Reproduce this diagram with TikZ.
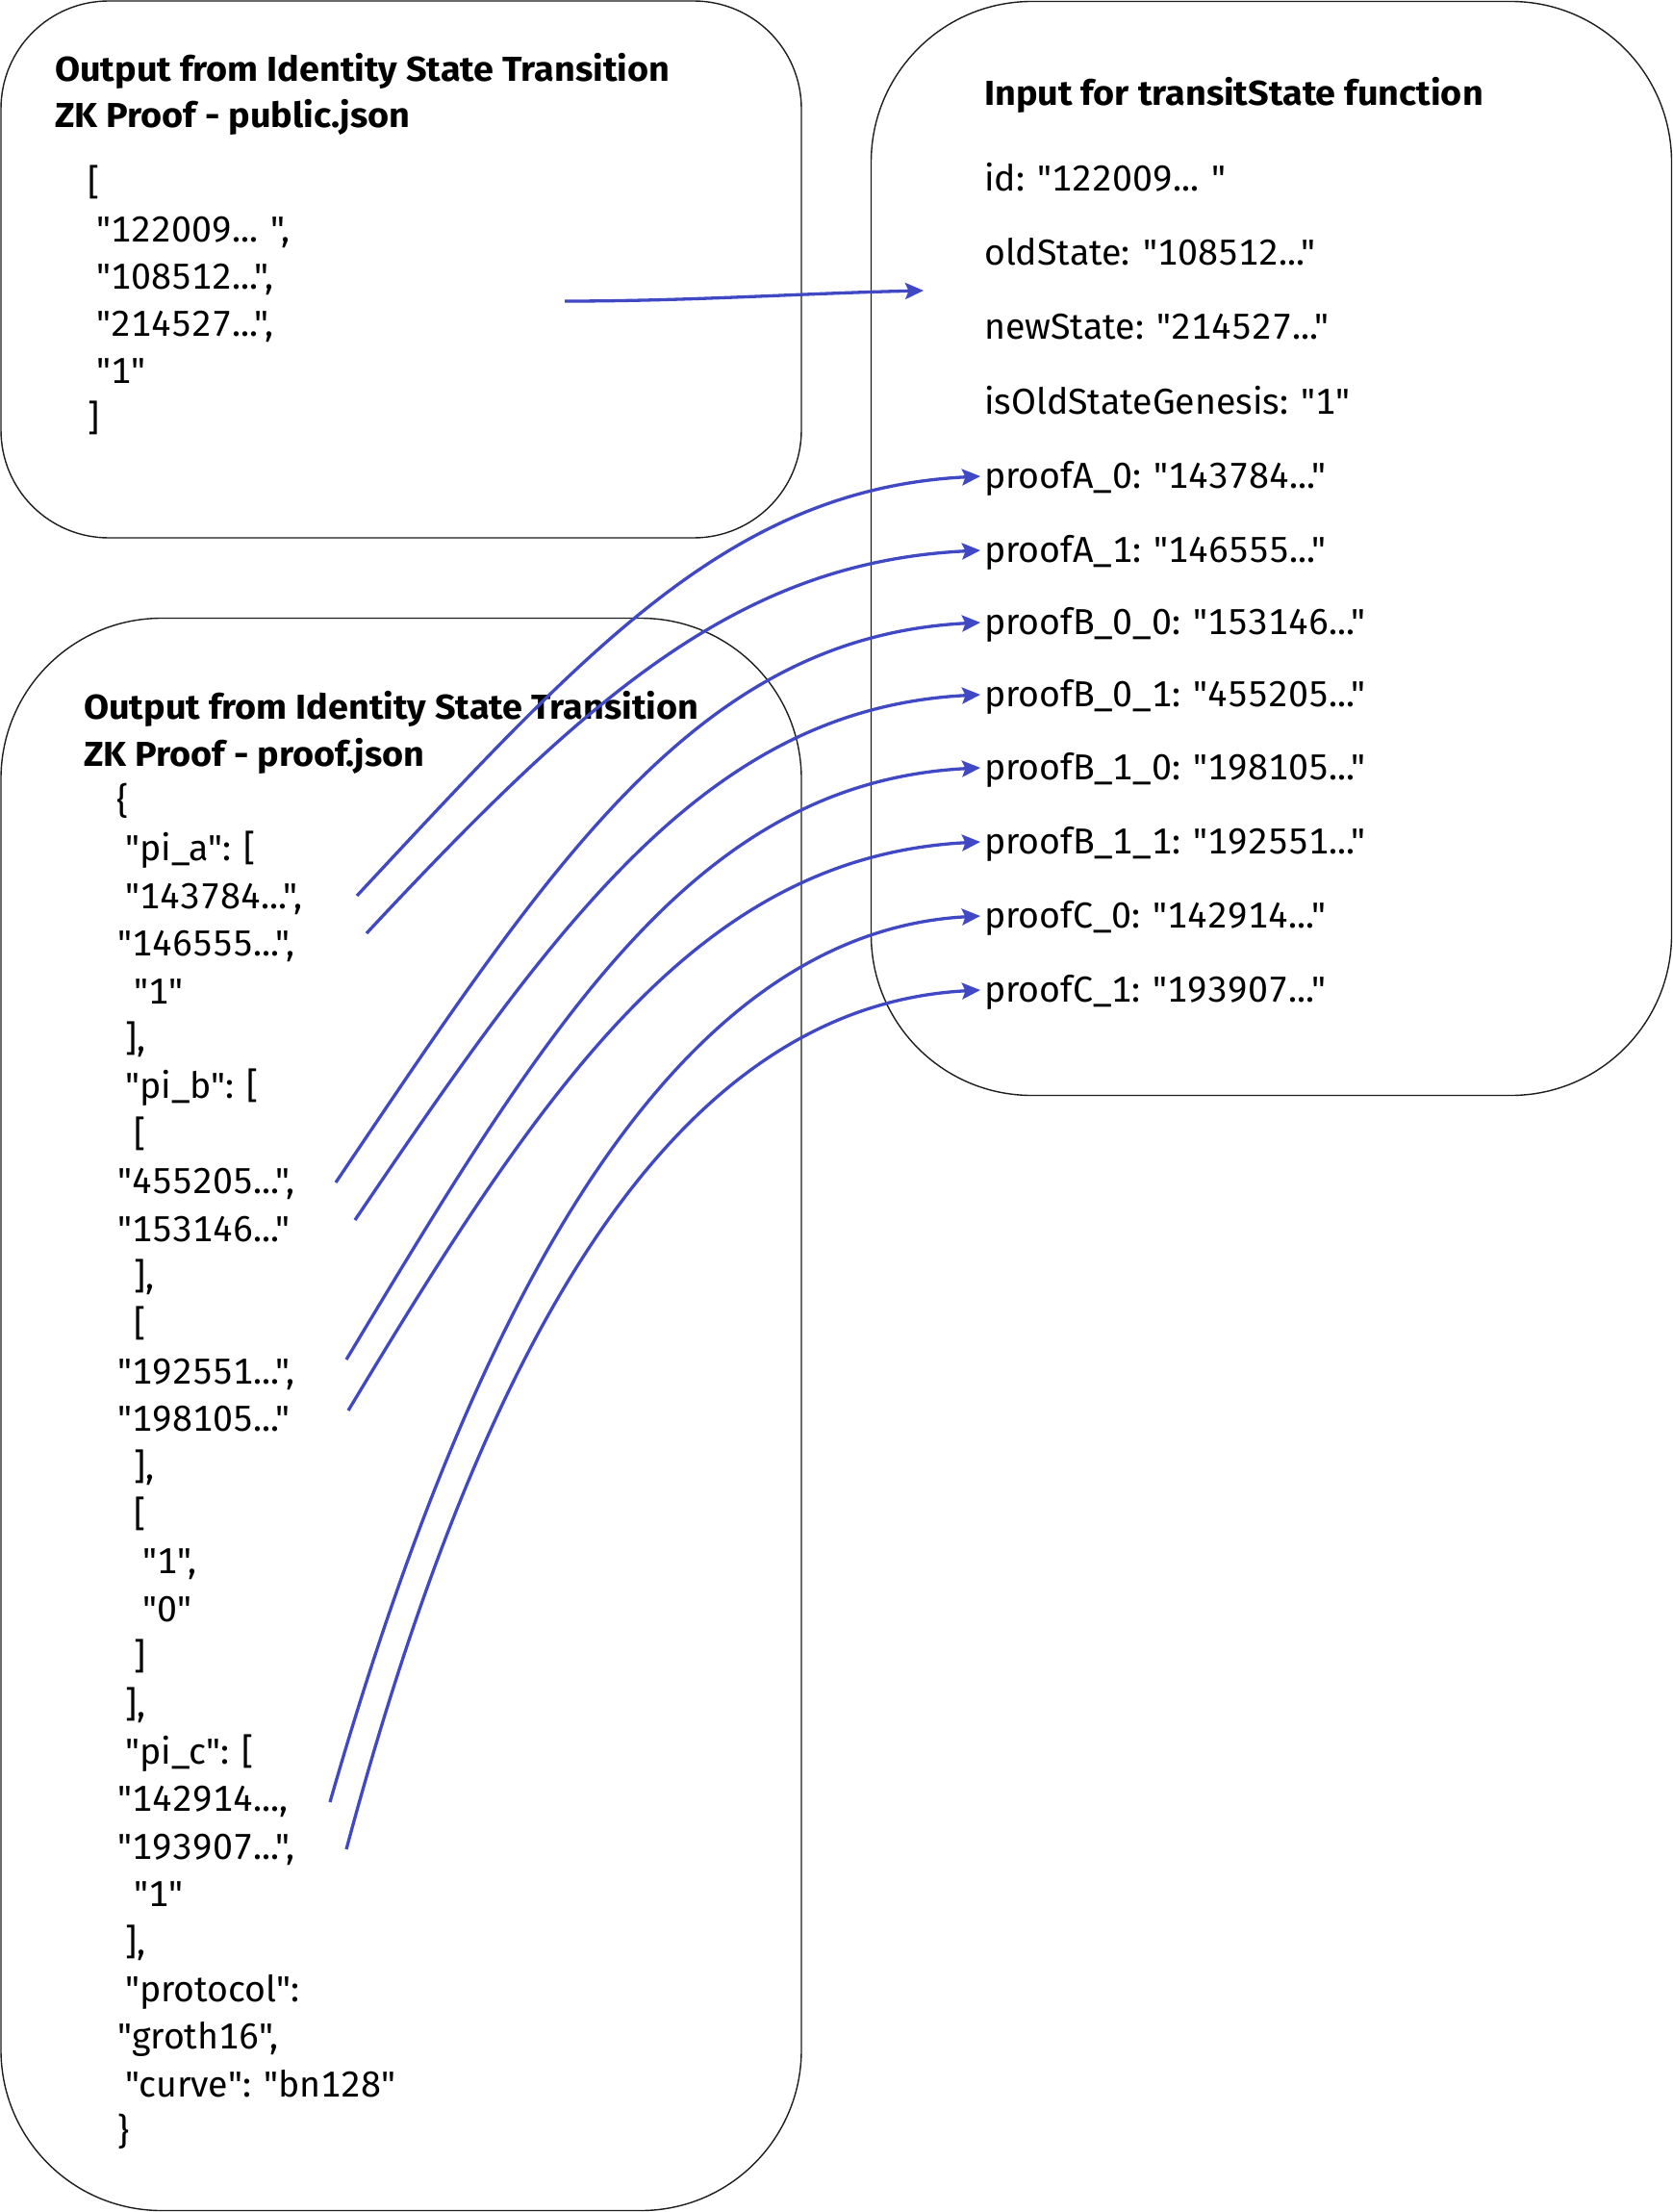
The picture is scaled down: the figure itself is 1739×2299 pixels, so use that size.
\documentclass[tikz,border=0pt]{standalone}
\usepackage{fontspec}
\newfontfamily\plex{Fira Sans}[Numbers=Monospaced, BoldFeatures={FakeStretch=1.05}]
\usetikzlibrary{arrows.meta,calc}
\definecolor{linkblue}{RGB}{64,72,196}
\definecolor{boxline}{RGB}{30,30,30}
\begin{document}
\begin{tikzpicture}[x=1pt,y=-1pt,
  box/.style={draw=boxline, line width=1.4pt, inner sep=0pt, rounded corners=#1},
  txt/.style={anchor=west, inner xsep=0pt, inner ysep=0pt, text height=25pt, text depth=0pt,
    font=\plex\fontsize{37.5}{44}\selectfont},
  ttl/.style={txt, font=\plex\fontsize{36}{43}\selectfont\bfseries},
  row/.style={txt, inner xsep=4pt},
  link/.style={draw=linkblue, line width=3.3pt, -{Stealth[length=19pt,width=17pt,inset=3.5pt]}}
]
\useasboundingbox (0,0) rectangle (1739,2299);
\fill[white] (0,0) rectangle (1739,2299);

% boxes
\node[box=112pt, minimum width=832pt, minimum height=558pt] (pub) at (417,280) {};
\node[box=167pt, minimum width=832pt, minimum height=1137pt] (inp) at (1321.5,570) {};
\node[box=167pt, minimum width=832pt, minimum height=1655pt] (prf) at (417,1470) {};

% public.json box
\node[ttl] (pt1) at (57,72) {Output from Identity State Transition};
\node[ttl] (pt2) at (57,120) {ZK Proof - public.json};
\node[txt] (p0) at (91,190) {[};
\node[txt] (p1) at (100,239) {"122009... ",};
\node[txt] (p2) at (100,288) {"108512...",};
\node[txt] (p3) at (100,337) {"214527...",};
\node[txt] (p4) at (100,386) {"1"};
\node[txt] (p5) at (91,435) {]};

% input box
\node[ttl] (it) at (1023,97) {Input for transitState function};
\node[row] (iid) at (1019,186) {id: "122009... "};
\node[row] (iold) at (1019,263) {oldState: "108512..."};
\node[row] (inew) at (1019,340) {newState: "214527..."};
\node[row] (igen) at (1019,418) {isOldStateGenesis: "1"};
\node[row] (tA0) at (1019,495) {proofA\_0: "143784..."};
\node[row] (tA1) at (1019,572) {proofA\_1: "146555..."};
\node[row] (tB00) at (1019,647) {proofB\_0\_0: "153146..."};
\node[row] (tB01) at (1019,722) {proofB\_0\_1: "455205..."};
\node[row] (tB10) at (1019,798) {proofB\_1\_0: "198105..."};
\node[row] (tB11) at (1019,875) {proofB\_1\_1: "192551..."};
\node[row] (tC0) at (1019,952) {proofC\_0: "142914..."};
\node[row] (tC1) at (1019,1029) {proofC\_1: "193907..."};

% proof.json box
\node[ttl] (ft1) at (87,735) {Output from Identity State Transition};
\node[ttl] (ft2) at (87,784) {ZK Proof - proof.json};
\node[txt] (f0) at (121,833) {\{};
\node[txt] (f1) at (130,882.4) {"pi\_a": [};
\node[txt] (f2) at (130,931.8) {"143784...",};
\node[txt] (f3) at (122,981.2) {"146555...",};
\node[txt] (f4) at (139,1030.6) {"1"};
\node[txt] (f5) at (130,1080) {],};
\node[txt] (f6) at (130,1129.4) {"pi\_b": [};
\node[txt] (f7) at (139,1178.8) {[};
\node[txt] (f8) at (122,1228.2) {"455205...",};
\node[txt] (f9) at (122,1277.6) {"153146..."};
\node[txt] (f10) at (139,1327) {],};
\node[txt] (f11) at (139,1376.4) {[};
\node[txt] (f12) at (122,1425.8) {"192551...",};
\node[txt] (f13) at (122,1475.2) {"198105..."};
\node[txt] (f14) at (139,1524.6) {],};
\node[txt] (f15) at (139,1574) {[};
\node[txt] (f16) at (148,1623.4) {"1",};
\node[txt] (f17) at (148,1672.8) {"0"};
\node[txt] (f18) at (139,1722.2) {]};
\node[txt] (f19) at (130,1771.6) {],};
\node[txt] (f20) at (130,1821) {"pi\_c": [};
\node[txt] (f21) at (122,1870.4) {"142914...,};
\node[txt] (f22) at (122,1919.8) {"193907...",};
\node[txt] (f23) at (139,1969.2) {"1"};
\node[txt] (f24) at (130,2018.6) {],};
\node[txt] (f25) at (130,2068) {"protocol":};
\node[txt] (f26) at (122,2117.4) {"groth16",};
\node[txt] (f27) at (130,2166.8) {"curve": "bn128"};
\node[txt] (f28) at (122,2216.2) {\}};

% connector start / free end points
\coordinate (s0) at (587,313);
\coordinate (e0) at (960,302);
\coordinate (sA0) at (371,931);
\coordinate (sA1) at (381,970);
\coordinate (sB00) at (349,1229);
\coordinate (sB01) at (369,1268);
\coordinate (sB10) at (360,1413);
\coordinate (sB11) at (362,1466);
\coordinate (sC0) at (343,1873);
\coordinate (sC1) at (360,1922);

% connectors
\draw[link] (s0) .. controls +(130,0) and +(-130,3) .. (e0);
\draw[link] (sA0) .. controls +(238.7,-256.0) and +(-260,13) .. (tA0.west);
\draw[link] (sA1) .. controls +(231.9,-248.7) and +(-250,12) .. (tA1.west);
\draw[link] (sB00) .. controls +(223.7,-331.6) and +(-295,15) .. (tB00.west);
\draw[link] (sB01) .. controls +(214.2,-317.5) and +(-280,14) .. (tB01.west);
\draw[link] (sB10) .. controls +(209.1,-348.0) and +(-298,15) .. (tB10.west);
\draw[link] (sB11) .. controls +(205.0,-341.2) and +(-292,15) .. (tB11.west);
\draw[link] (sC0) .. controls +(148.8,-519.1) and +(-320,17) .. (tC0.west);
\draw[link] (sC1) .. controls +(134.6,-502.3) and +(-330,17) .. (tC1.west);
\end{tikzpicture}
\end{document}
